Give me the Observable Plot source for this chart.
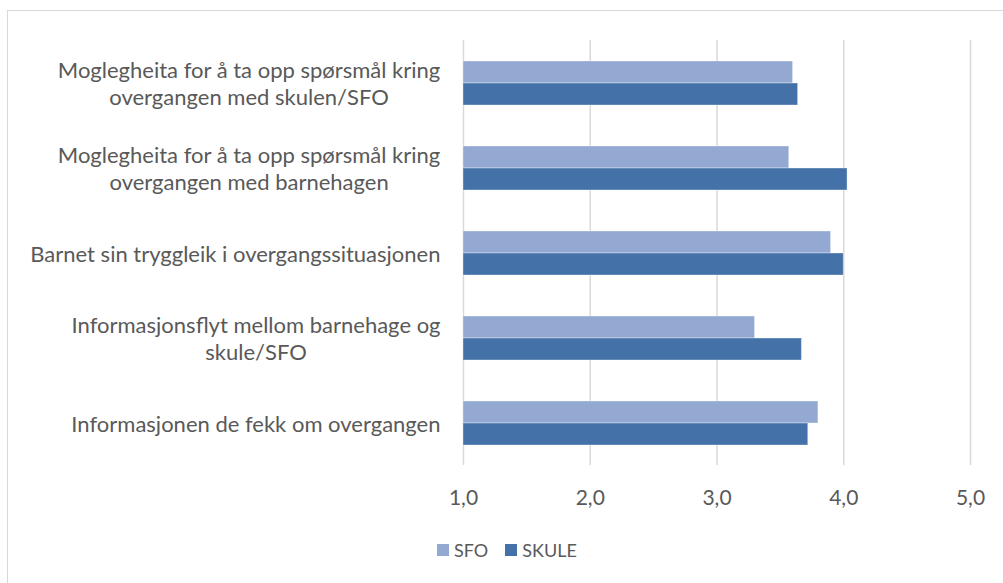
<!DOCTYPE html>
<html><head><meta charset="utf-8">
<script src="https://cdn.jsdelivr.net/npm/d3@7"></script>
<script src="https://cdn.jsdelivr.net/npm/@observablehq/plot@0.6"></script>
<style>
html,body{margin:0;padding:0;background:#fff;}
#wrap{position:relative;width:1003px;height:583px;overflow:hidden;font-family:Lato,"Open Sans",sans-serif;}
#frame{position:absolute;left:7px;top:10px;width:1010px;height:590px;border:1px solid #d9d9d9;box-sizing:border-box;}
#chart{position:absolute;left:0;top:0;}
#legend{position:absolute;top:539px;left:437px;display:flex;align-items:center;font-size:18px;color:#595959;line-height:22px;}
#legend .sw{display:inline-block;width:12px;height:12px;margin-right:5px;}
#legend .it{display:flex;align-items:center;margin-right:17px;}
</style></head>
<body><div id="wrap"><div id="frame"></div><div id="chart"></div>
<div id="legend"></div></div>
<script>
const categories = [
  "Moglegheita for å ta opp spørsmål kring\novergangen med skulen/SFO",
  "Moglegheita for å ta opp spørsmål kring\novergangen med barnehagen",
  "Barnet sin tryggleik i overgangssituasjonen",
  "Informasjonsflyt mellom barnehage og\nskule/SFO",
  "Informasjonen de fekk om overgangen"
];
const seriesNames = ["SFO", "SKULE"];
const sfo   = [3.60, 3.57, 3.90, 3.30, 3.80];
const skule = [3.64, 4.03, 4.00, 3.67, 3.72];
const xTicks = [1, 2, 3, 4, 5];
const colors = ["#93a9d1", "#4472a8"];

const rows = [];
categories.forEach((c, i) => {
  rows.push({cat: c, series: "SFO", value: sfo[i]});
  rows.push({cat: c, series: "SKULE", value: skule[i]});
});

const labelFont = "22px Lato";
const ctx = document.createElement("canvas").getContext("2d");
ctx.font = labelFont;
const blockWidth = s => Math.max(...s.split("\n").map(l => ctx.measureText(l).width));

const labelMarks = categories.map(c =>
  Plot.text([c], {fy: d => d, text: d => d, frameAnchor: "left", textAnchor: "middle",
    dx: -23 - blockWidth(c) / 2, fontSize: 22, lineHeight: 1.23, fill: "#595959"})
);

const plot = Plot.plot({
  width: 1003,
  height: 520,
  marginTop: 40,
  marginBottom: 55,
  marginLeft: 463,
  marginRight: 33,
  style: {fontFamily: "Lato, 'Open Sans', sans-serif", fontSize: "21px", color: "#595959", background: "transparent"},
  x: {domain: [1, 5], ticks: xTicks, tickFormat: d => d3.format(".1f")(d).replace(".", ","), tickSize: 0, tickPadding: 25, label: null},
  fy: {domain: categories, padding: 0, axis: null, label: null},
  y: {domain: seriesNames, paddingInner: 0, paddingOuter: 0.93, axis: null},
  color: {domain: seriesNames, range: colors},
  marks: [
    Plot.ruleX(xTicks, {stroke: "#d9d9d9", strokeWidth: 1.5}),
    Plot.barX(rows, {fy: "cat", y: "series", x1: 1, x2: "value", fill: "series", stroke: "#ffffff", strokeOpacity: 0.35, strokeWidth: 1}),
    ...labelMarks
  ]
});
document.getElementById("chart").appendChild(plot);

const lg = document.getElementById("legend");
seriesNames.forEach((s, i) => {
  const it = document.createElement("span"); it.className = "it";
  const sw = document.createElement("span"); sw.className = "sw"; sw.style.background = colors[i];
  it.appendChild(sw); it.appendChild(document.createTextNode(s));
  lg.appendChild(it);
});
</script></body></html>
